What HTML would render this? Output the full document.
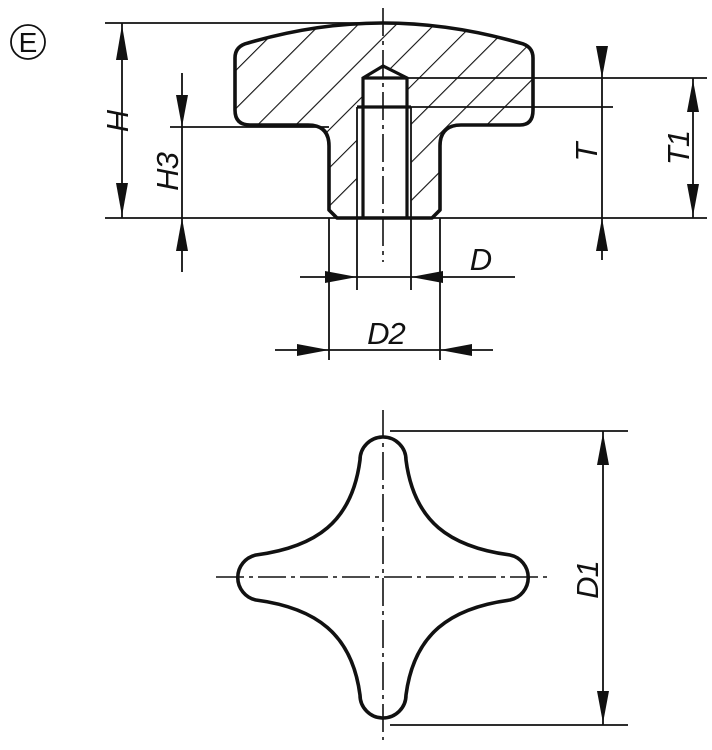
<!DOCTYPE html>
<html><head><meta charset="utf-8"><style>
html,body{margin:0;padding:0;background:#fff;}
svg{display:block;}
text{font-family:"Liberation Sans",sans-serif;font-style:italic;fill:#111;}
</style></head><body>
<svg width="712" height="750" viewBox="0 0 712 750" xmlns="http://www.w3.org/2000/svg">
<defs>
<pattern id="h" patternUnits="userSpaceOnUse" width="27" height="27" patternTransform="rotate(45)">
<line x1="0" y1="0" x2="0" y2="27" stroke="#111" stroke-width="2.2"/>
</pattern>
<clipPath id="sec">
<path clip-rule="evenodd" d="M235,58 L235,110 Q235,125 250,125 L308,125 Q329,125 329,146 L329,210 L337,218 L432,218 L440,210 L440,146 Q440,125 461,125 L520,125 Q533,125 533,110 L533,58 Q533,46 520,43 Q450,23 383,23 Q316,23 248,43 Q235,46 235,58 Z M363,78 L383,66 L407,78 L407,107 L411,107 L411,218 L357,218 L357,107 L363,107 Z"/>
</clipPath>
</defs>

<circle cx="28" cy="42" r="17" fill="none" stroke="#111" stroke-width="1.8"/>
<text x="28" y="52" font-size="28" text-anchor="middle" style="font-style:normal">E</text>

<rect x="230" y="20" width="310" height="205" fill="url(#h)" clip-path="url(#sec)"/>

<path d="M235,58 L235,110 Q235,125 250,125 L308,125 Q329,125 329,146 L329,210 L337,218 L432,218 L440,210 L440,146 Q440,125 461,125 L520,125 Q533,125 533,110 L533,58 Q533,46 520,43 Q450,23 383,23 Q316,23 248,43 Q235,46 235,58 Z" fill="none" stroke="#111" stroke-width="3.6" stroke-linejoin="round"/>
<g stroke="#111" fill="none">
<path d="M363,218 L363,78 L383,66 L407,78 L407,218" stroke-width="3.2"/>
<line x1="363" y1="78" x2="407" y2="78" stroke-width="3.2"/>
<line x1="357" y1="107" x2="411" y2="107" stroke-width="3.2"/>
<line x1="357" y1="107" x2="357" y2="290" stroke-width="1.8"/>
<line x1="411" y1="107" x2="411" y2="290" stroke-width="1.8"/>
</g>

<line x1="383" y1="8" x2="383" y2="262" stroke="#111" stroke-width="1.6" stroke-dasharray="28,5,4,5"/>

<g stroke="#111" stroke-width="1.8">
<line x1="105" y1="23" x2="383" y2="23"/>
<line x1="105" y1="218" x2="707" y2="218"/>
<line x1="170" y1="127" x2="329" y2="127"/>
<line x1="407" y1="78" x2="707" y2="78"/>
<line x1="411" y1="107" x2="613" y2="107"/>
<line x1="329" y1="218" x2="329" y2="360"/>
<line x1="440" y1="218" x2="440" y2="360"/>
<line x1="122" y1="23" x2="122" y2="218"/>
<line x1="182" y1="73" x2="182" y2="272"/>
<line x1="602" y1="53" x2="602" y2="260"/>
<line x1="693" y1="78" x2="693" y2="218"/>
<line x1="300" y1="277" x2="515" y2="277"/>
<line x1="275" y1="350" x2="493" y2="350"/>
</g>

<g fill="#111">
<polygon points="122,25 116,60 128,60"/>
<polygon points="122,216 116,183 128,183"/>
<polygon points="182,127 176,95 188,95"/>
<polygon points="182,218 176,251 188,251"/>
<polygon points="602,78 596,46 608,46"/>
<polygon points="602,218 596,251 608,251"/>
<polygon points="693,80 687,112 699,112"/>
<polygon points="693,216 687,184 699,184"/>
<polygon points="357,277 325,271 325,283"/>
<polygon points="411,277 443,271 443,283"/>
<polygon points="329,350 297,344 297,356"/>
<polygon points="440,350 472,344 472,356"/>
<polygon points="603,433 597,465 609,465"/>
<polygon points="603,723 597,691 609,691"/>
</g>

<text font-size="31" transform="translate(128,121) rotate(-90)" text-anchor="middle">H</text>
<text font-size="31" transform="translate(178,172) rotate(-90)" text-anchor="middle" letter-spacing="-1">H3</text>
<text font-size="31" transform="translate(597,152) rotate(-90)" text-anchor="middle">T</text>
<text font-size="31" transform="translate(689,148) rotate(-90)" text-anchor="middle" letter-spacing="-1">T1</text>
<text font-size="31" transform="translate(598,580) rotate(-90)" text-anchor="middle" letter-spacing="-1">D1</text>
<text font-size="31" x="481" y="270" text-anchor="middle">D</text>
<text font-size="31" x="386" y="344" text-anchor="middle" letter-spacing="-1">D2</text>

<g stroke="#111" stroke-width="1.8">
<line x1="390" y1="431" x2="628" y2="431"/>
<line x1="390" y1="725" x2="628" y2="725"/>
<line x1="603" y1="431" x2="603" y2="725"/>
</g>
<line x1="383" y1="410" x2="383" y2="740" stroke="#111" stroke-width="1.6" stroke-dasharray="28,5,4,5"/>
<line x1="216" y1="577" x2="551" y2="577" stroke="#111" stroke-width="1.6" stroke-dasharray="28,5,4,5"/>
<path d="M406,460 C414,522 450,547 510,555 A23,23 0 0 1 510,600 C450,608 414,634 406,695 A23,23 0 0 1 360,695 C352,634 316,608 256,600 A23,23 0 0 1 256,555 C316,547 352,522 360,460 A23,23 0 0 1 406,460 Z" fill="none" stroke="#111" stroke-width="3.6"/>
</svg>
</body></html>
